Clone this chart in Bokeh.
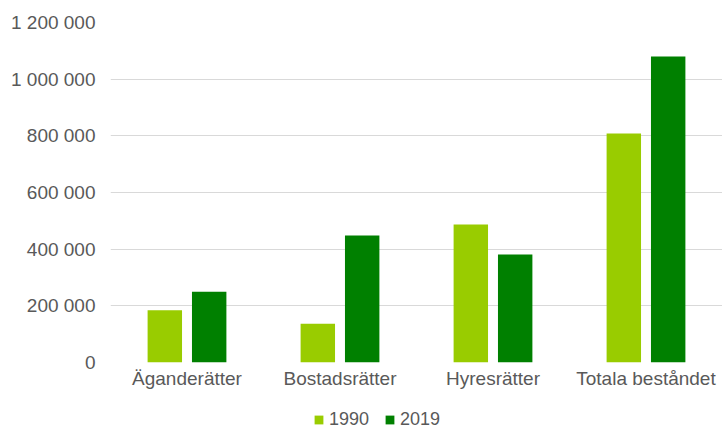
from bokeh.plotting import figure
from bokeh.layouts import column
from bokeh.models import ColumnDataSource, FactorRange, Range1d, FixedTicker, Legend, LegendItem
from bokeh.transform import dodge
from bokeh.embed import file_html
from bokeh.resources import INLINE

categories = ["Äganderätter", "Bostadsrätter", "Hyresrätter", "Totala beståndet"]
years = ["1990", "2019"]
values_1990 = [184000, 137000, 487000, 808000]
values_2019 = [250000, 448000, 381000, 1080000]
y_ticks = [0, 200000, 400000, 600000, 800000, 1000000, 1200000]
y_tick_labels = ["0", "200 000", "400 000", "600 000", "800 000", "1 000 000", "1 200 000"]

FONT = "Liberation Sans"
TXT = "#595959"
C1990 = "#99cc00"
C2019 = "#008000"

src = ColumnDataSource(dict(cat=categories, v1990=values_1990, v2019=values_2019))

p = figure(width=722, height=400, output_backend="svg", toolbar_location=None,
           x_range=FactorRange(factors=categories), y_range=Range1d(0, 1200000),
           min_border_left=110, min_border_right=0, min_border_top=22, min_border_bottom=38)

p.vbar(x=dodge("cat", -0.145, range=p.x_range), top="v1990", width=0.225, source=src,
       fill_color=C1990, line_color=None)
p.vbar(x=dodge("cat", 0.145, range=p.x_range), top="v2019", width=0.225, source=src,
       fill_color=C2019, line_color=None)

p.outline_line_color = None
p.background_fill_color = "white"
p.border_fill_color = "white"
p.xgrid.grid_line_color = None
p.ygrid.grid_line_color = "#d9d9d9"
p.ygrid.grid_line_width = 1

p.yaxis.ticker = FixedTicker(ticks=y_ticks)
p.yaxis.major_label_overrides = {t: l for t, l in zip(y_ticks, y_tick_labels)}
for ax in (p.xaxis, p.yaxis):
    ax.axis_line_color = None
    ax.major_tick_line_color = None
    ax.minor_tick_line_color = None
    ax.major_tick_in = 0
    ax.major_tick_out = 0
    ax.major_label_text_font = FONT
    ax.major_label_text_font_size = "19px"
    ax.major_label_text_color = TXT
p.yaxis.major_label_standoff = 15
p.xaxis.major_label_standoff = 5

# legend strip below the chart (key renderers have zero height, only used for the legend swatches)
lg = figure(width=722, height=30, output_backend="svg", toolbar_location=None,
            x_range=FactorRange(factors=years), y_range=Range1d(0, 1),
            x_axis_type=None, y_axis_type=None,
            min_border_left=0, min_border_right=0, min_border_top=0, min_border_bottom=0)
lg.outline_line_color = None
lg.xgrid.grid_line_color = None
lg.ygrid.grid_line_color = None
key_src = ColumnDataSource(dict(year=years, zero=[0] * len(years)))
k1 = lg.vbar(x="year", top="zero", width=0.1, source=key_src, fill_color=C1990, line_color=None)
k2 = lg.vbar(x="year", top="zero", width=0.1, source=key_src, fill_color=C2019, line_color=None)

legend = Legend(items=[LegendItem(label=years[0], renderers=[k1]),
                       LegendItem(label=years[1], renderers=[k2])],
                orientation="horizontal", location=(203, 0),
                glyph_width=11, glyph_height=11, label_standoff=5, spacing=15,
                padding=0, margin=0, border_line_color=None, background_fill_alpha=0,
                label_height=11,
                label_text_font=FONT, label_text_font_size="18px", label_text_color=TXT)
lg.add_layout(legend, "center")

layout = column(p, lg, spacing=0)
open("out.html", "w").write(file_html(layout, INLINE))
